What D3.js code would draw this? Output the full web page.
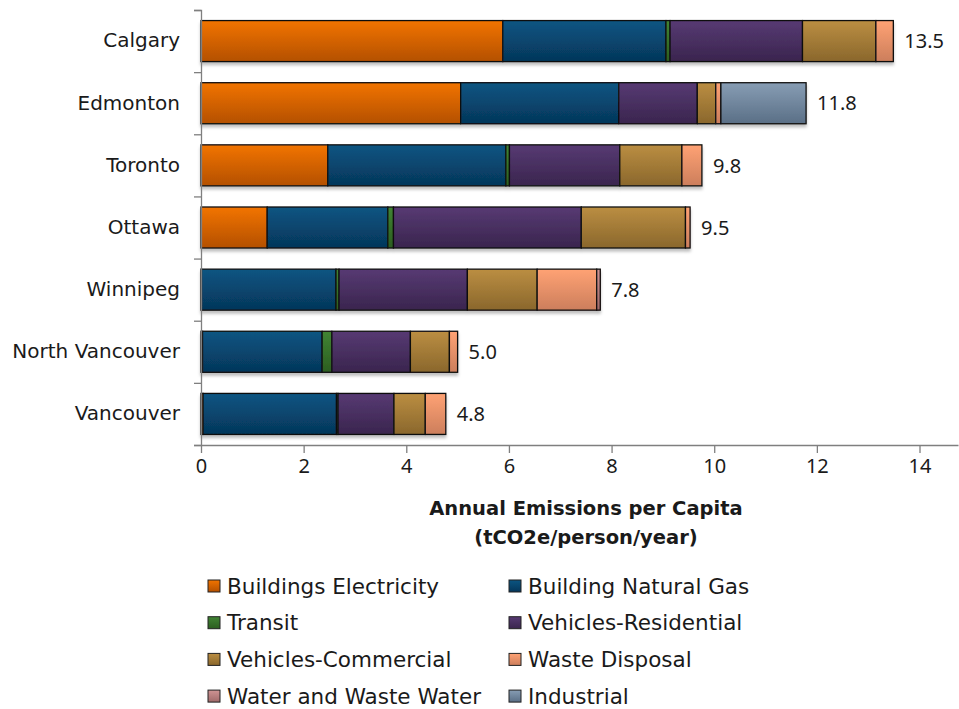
<!DOCTYPE html>
<html>
<head>
<meta charset="utf-8">
<script src="https://cdn.jsdelivr.net/npm/d3@7"></script>
<style>
  body { margin: 0; background: #fff; }
  text { font-family: "DejaVu Sans", sans-serif; fill: #1a1a1a; }
</style>
</head>
<body>
<script>
// categories (top to bottom)
var cities = ['Calgary', 'Edmonton', 'Toronto', 'Ottawa', 'Winnipeg', 'North Vancouver', 'Vancouver']
var seriesNames = ['Buildings Electricity', 'Building Natural Gas', 'Transit', 'Vehicles-Residential',
  'Vehicles-Commercial', 'Waste Disposal', 'Water and Waste Water', 'Industrial']

// values per series, tCO2e/person/year, same order as cities
var buildingsElectricity = [5.88, 5.06, 2.47, 1.29, 0.01, 0.03, 0.04]
var buildingNaturalGas   = [3.18, 3.08, 3.47, 2.35, 2.62, 2.33, 2.60]
var transit              = [0.08, 0.00, 0.07, 0.11, 0.06, 0.19, 0.03]
var vehiclesResidential  = [2.58, 1.53, 2.15, 3.66, 2.50, 1.53, 1.09]
var vehiclesCommercial   = [1.43, 0.36, 1.21, 2.03, 1.36, 0.76, 0.61]
var wasteDisposal        = [0.34, 0.10, 0.39, 0.09, 1.16, 0.16, 0.40]
var waterWasteWater      = [0.00, 0.00, 0.00, 0.00, 0.07, 0.00, 0.00]
var industrial           = [0.00, 1.66, 0.00, 0.00, 0.00, 0.00, 0.00]
var totalLabels = ['13.5', '11.8', '9.8', '9.5', '7.8', '5.0', '4.8']
var xTicks = [0, 2, 4, 6, 8, 10, 12, 14]

var seriesValues = [buildingsElectricity, buildingNaturalGas, transit, vehiclesResidential,
  vehiclesCommercial, wasteDisposal, waterWasteWater, industrial]
var keys = d3.range(seriesNames.length).map(function (i) { return 's' + i })
var rows = cities.map(function (c, j) {
  var r = { city: c, label: totalLabels[j] }
  seriesValues.forEach(function (arr, i) { r['s' + i] = arr[j] })
  return r
})

// top / bottom gradient colours
var colorTop = ['#f27400', '#0b5582', '#418434', '#573a73', '#bb8e42', '#ffa274', '#cf9494', '#879db4']
var colorBot = ['#b45000', '#05365a', '#2c5e20', '#3a254e', '#8a672c', '#cc7e5c', '#a06a6a', '#5a6f86']

var W = 959, H = 709
var margin = { top: 10, left: 201, right: 1, bottom: 264 }
var w = W - margin.left - margin.right
var h = H - margin.top - margin.bottom

var svg = d3.select('body').append('svg')
  .attr('width', W)
  .attr('height', H)

var defs = svg.append('defs')
keys.forEach(function (k, i) {
  var g = defs.append('linearGradient')
    .attr('id', 'grad' + i)
    .attr('x1', 0).attr('y1', 0).attr('x2', 0).attr('y2', 1)
  g.append('stop').attr('offset', '0%').attr('stop-color', colorTop[i])
  g.append('stop').attr('offset', '100%').attr('stop-color', colorBot[i])
})
var shadow = defs.append('filter').attr('id', 'shadow')
  .attr('x', '-5%').attr('y', '-20%').attr('width', '110%').attr('height', '150%')
shadow.append('feDropShadow')
  .attr('dx', 0).attr('dy', 3).attr('stdDeviation', 1.5)
  .attr('flood-color', '#000').attr('flood-opacity', 0.25)

var chart = svg.append('g')
  .attr('transform', 'translate(' + margin.left + ',' + margin.top + ')')

// scales
var x = d3.scaleLinear().domain([0, 14.75]).range([0, w])
var y = d3.scaleBand().domain(cities).range([0, h])
  .paddingInner(0.34).paddingOuter(0.17)
var yEdge = d3.scaleLinear().domain([0, cities.length]).range([0, h])

var stacked = d3.stack().keys(keys)(rows)

// bars
chart.selectAll('g.bar')
  .data(rows)
  .enter()
  .append('g')
  .attr('class', 'bar')
  .attr('filter', 'url(#shadow)')

stacked.forEach(function (layer, i) {
  chart.selectAll('g.bar')
    .data(layer)
    .filter(function (d) { return d[1] - d[0] > 0.001 })
    .append('rect')
    .attr('x', function (d) { return x(d[0]) })
    .attr('y', function (d) { return y(d.data.city) })
    .attr('width', function (d) { return x(d[1]) - x(d[0]) })
    .attr('height', y.bandwidth())
    .attr('fill', 'url(#grad' + i + ')')
    .attr('stroke', '#111')
    .attr('stroke-width', 1.3)
})

// totals
var last = stacked[stacked.length - 1]
chart.selectAll('text.total')
  .data(last)
  .enter()
  .append('text')
  .attr('class', 'total')
  .attr('x', function (d) { return x(d[1]) + 11 })
  .attr('y', function (d) { return y(d.data.city) + y.bandwidth() / 2 })
  .attr('dy', '0.36em')
  .style('font-size', '20px')
  .style('font-family', '"Noto Sans", sans-serif')
  .text(function (d) { return d.data.label })

// Y-axis: ticks at category edges, labels at centres
var yAxisG = chart.append('g')
  .call(d3.axisLeft(yEdge).ticks(cities.length).tickSize(7).tickFormat(''))
yAxisG.select('.domain').attr('stroke', '#7f7f7f').attr('stroke-width', 1.3)
yAxisG.selectAll('.tick line').attr('stroke', '#7f7f7f').attr('stroke-width', 1.3)

var yLabels = chart.append('g')
  .call(d3.axisLeft(y).tickSize(0).tickPadding(21))
yLabels.select('.domain').remove()
yLabels.selectAll('text')
  .style('font-size', '20px')
  .style('font-family', '"DejaVu Sans", sans-serif')
  .attr('fill', '#1a1a1a')

// X-axis
var xAxisG = chart.append('g')
  .attr('transform', 'translate(0,' + h + ')')
  .call(d3.axisBottom(x).tickValues(xTicks).tickSize(8).tickSizeOuter(0).tickPadding(6))
xAxisG.select('.domain').attr('stroke', '#7f7f7f').attr('stroke-width', 1.3)
xAxisG.selectAll('.tick line').attr('stroke', '#7f7f7f').attr('stroke-width', 1.3)
xAxisG.selectAll('text')
  .style('font-size', '20px')
  .style('font-family', '"Noto Sans", sans-serif')
  .attr('fill', '#1a1a1a')

// X-axis label
var title = chart.append('text')
  .attr('x', 385)
  .attr('y', h + 70)
  .style('text-anchor', 'middle')
  .style('font-size', '19.5px')
  .style('font-weight', 'bold')
title.append('tspan').attr('x', 385).text('Annual Emissions per Capita')
title.append('tspan').attr('x', 385).attr('dy', 29).text('(tCO2e/person/year)')

// legend, two columns
var legend = svg.append('g').attr('class', 'legend')
var items = legend.selectAll('g')
  .data(seriesNames)
  .enter()
  .append('g')
  .attr('transform', function (d, i) {
    return 'translate(' + (i % 2 === 0 ? 208 : 509) + ',' + (586 + Math.floor(i / 2) * 36.7) + ')'
  })
items.append('rect')
  .attr('x', 0)
  .attr('y', -6)
  .attr('width', 12)
  .attr('height', 12)
  .attr('fill', function (d, i) { return 'url(#grad' + i + ')' })
  .attr('stroke', '#222')
  .attr('stroke-width', 1)
items.append('text')
  .attr('x', 19)
  .attr('y', 0)
  .attr('dy', '0.36em')
  .style('font-size', '21.5px')
  .text(function (d) { return d })
</script>
</body>
</html>
